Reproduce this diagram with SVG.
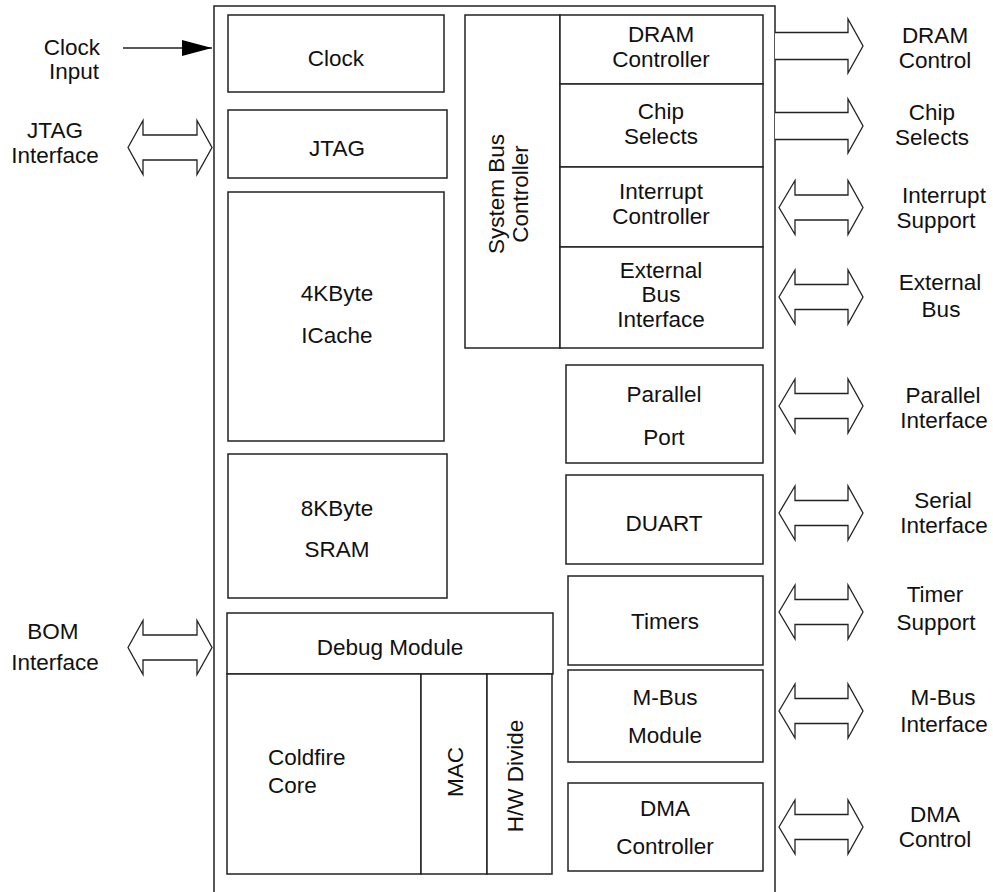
<svg xmlns="http://www.w3.org/2000/svg" width="993" height="892" viewBox="0 0 993 892">
<defs>
<style>
.b{fill:#fff;stroke:#222;stroke-width:1.5}
.l{fill:none;stroke:#222;stroke-width:1.5}
.a{fill:#fff;stroke:#222;stroke-width:1.3;stroke-linejoin:miter}
text{font-family:"Liberation Sans",Arial,Helvetica,sans-serif;font-size:22.5px;fill:#111}
.m{text-anchor:middle}
</style>
<marker id="ah" markerWidth="30" markerHeight="16" refX="30" refY="8" orient="auto" markerUnits="userSpaceOnUse">
<path d="M0,0 L30,8 L0,16 Z" fill="#000"/>
</marker>
</defs>
<rect width="993" height="892" fill="#fff"/>

<g id="chip">
<rect class="b" x="214" y="6" width="561" height="900"/>
</g>

<g id="clock">
<rect class="b" x="228" y="15" width="216" height="77"/>
<text class="m" x="336" y="66">Clock</text>
</g>
<g id="jtag">
<rect class="b" x="228" y="110" width="219" height="68"/>
<text class="m" x="337" y="156">JTAG</text>
</g>
<g id="icache">
<rect class="b" x="228" y="192" width="216" height="249"/>
<text class="m" x="337" y="301">4KByte</text>
<text class="m" x="337" y="343">ICache</text>
</g>
<g id="sram">
<rect class="b" x="228" y="454" width="219" height="144"/>
<text class="m" x="337" y="516">8KByte</text>
<text class="m" x="337" y="557">SRAM</text>
</g>
<g id="debug">
<rect class="b" x="227" y="613" width="326" height="61"/>
<text class="m" x="390" y="655">Debug Module</text>
</g>
<g id="core">
<rect class="b" x="227" y="674" width="194" height="200"/>
<text x="268" y="765">Coldfire</text>
<text x="268" y="793">Core</text>
</g>
<g id="mac">
<rect class="b" x="421" y="674" width="66" height="200"/>
<text class="m" transform="translate(446,772) rotate(-90)" y="17">MAC</text>
</g>
<g id="hwdivide">
<rect class="b" x="487" y="674" width="65" height="200"/>
<text class="m" transform="translate(507,776) rotate(-90)" y="16">H/W Divide</text>
</g>

<g id="sysbus">
<rect class="b" x="465" y="15" width="95" height="333"/>
<text class="m" transform="translate(487,194) rotate(-90)"><tspan x="0" y="17">System Bus</tspan><tspan x="0" y="41">Controller</tspan></text>
</g>
<g id="dram">
<rect class="b" x="560" y="15" width="203" height="69"/>
<text class="m" x="661" y="42">DRAM</text>
<text class="m" x="661" y="67">Controller</text>
</g>
<g id="chipselects">
<rect class="b" x="560" y="84" width="203" height="83"/>
<text class="m" x="661" y="119">Chip</text>
<text class="m" x="661" y="144">Selects</text>
</g>
<g id="intctrl">
<rect class="b" x="560" y="167" width="203" height="80"/>
<text class="m" x="661" y="199">Interrupt</text>
<text class="m" x="661" y="224">Controller</text>
</g>
<g id="extbus">
<rect class="b" x="560" y="247" width="203" height="101"/>
<text class="m" x="661" y="278">External</text>
<text class="m" x="661" y="302">Bus</text>
<text class="m" x="661" y="327">Interface</text>
</g>
<g id="parallel">
<rect class="b" x="566" y="365" width="197" height="98"/>
<text class="m" x="664" y="402">Parallel</text>
<text class="m" x="664" y="445">Port</text>
</g>
<g id="duart">
<rect class="b" x="566" y="475" width="197" height="89"/>
<text class="m" x="664" y="531">DUART</text>
</g>
<g id="timers">
<rect class="b" x="568" y="576" width="195" height="89"/>
<text class="m" x="665" y="629">Timers</text>
</g>
<g id="mbus">
<rect class="b" x="568" y="670" width="195" height="92"/>
<text class="m" x="665" y="705">M-Bus</text>
<text class="m" x="665" y="743">Module</text>
</g>
<g id="dma">
<rect class="b" x="568" y="783" width="195" height="88"/>
<text class="m" x="665" y="816">DMA</text>
<text class="m" x="665" y="854">Controller</text>
</g>

<g id="connectors">
<line class="l" x1="123" y1="48" x2="212" y2="48" marker-end="url(#ah)"/>
<polygon class="a" points="128,147.5 143,120.5 143,135 197,135 197,120.5 212,147.5 197,174.5 197,160 143,160 143,174.5"/>
<polygon class="a" points="128,647.5 143,620.5 143,635 197,635 197,620.5 212,647.5 197,674.5 197,660 143,660 143,674.5"/>
<polyline class="a" points="775,32.5 848,32.5 848,19 863,46 848,73 848,59.5 775,59.5"/>
<polyline class="a" points="775,112.5 848,112.5 848,99 863,126 848,153 848,139.5 775,139.5"/>
<polygon class="a" points="779,207.5 795,180.5 795,195 848,195 848,180.5 863,207.5 848,234.5 848,220 795,220 795,234.5"/>
<polygon class="a" points="779,297 795,270 795,284.5 848,284.5 848,270 863,297 848,324 848,309.5 795,309.5 795,324"/>
<polygon class="a" points="779,406 795,379 795,393.5 848,393.5 848,379 863,406 848,433 848,418.5 795,418.5 795,433"/>
<polygon class="a" points="779,513 795,486 795,500.5 848,500.5 848,486 863,513 848,540 848,525.5 795,525.5 795,540"/>
<polygon class="a" points="779,612 795,585 795,599.5 848,599.5 848,585 863,612 848,639 848,624.5 795,624.5 795,639"/>
<polygon class="a" points="779,711 795,684 795,698.5 848,698.5 848,684 863,711 848,738 848,723.5 795,723.5 795,738"/>
<polygon class="a" points="779,827 795,800 795,814.5 848,814.5 848,800 863,827 848,854 848,839.5 795,839.5 795,854"/>
</g>

<g id="labels">
<text class="m" x="72" y="55">Clock</text>
<text class="m" x="74" y="79">Input</text>
<text class="m" x="55" y="138">JTAG</text>
<text class="m" x="55" y="163">Interface</text>
<text class="m" x="53" y="639">BOM</text>
<text class="m" x="55" y="670">Interface</text>
<text class="m" x="935" y="43">DRAM</text>
<text class="m" x="935" y="68">Control</text>
<text class="m" x="932" y="120">Chip</text>
<text class="m" x="932" y="145">Selects</text>
<text class="m" x="944" y="203">Interrupt</text>
<text class="m" x="936" y="228">Support</text>
<text class="m" x="940" y="290">External</text>
<text class="m" x="941" y="317">Bus</text>
<text class="m" x="943" y="403">Parallel</text>
<text class="m" x="944" y="428">Interface</text>
<text class="m" x="943" y="508">Serial</text>
<text class="m" x="944" y="533">Interface</text>
<text class="m" x="935" y="602">Timer</text>
<text class="m" x="936" y="630">Support</text>
<text class="m" x="943" y="705">M-Bus</text>
<text class="m" x="944" y="732">Interface</text>
<text class="m" x="935" y="822">DMA</text>
<text class="m" x="935" y="847">Control</text>
</g>
</svg>
